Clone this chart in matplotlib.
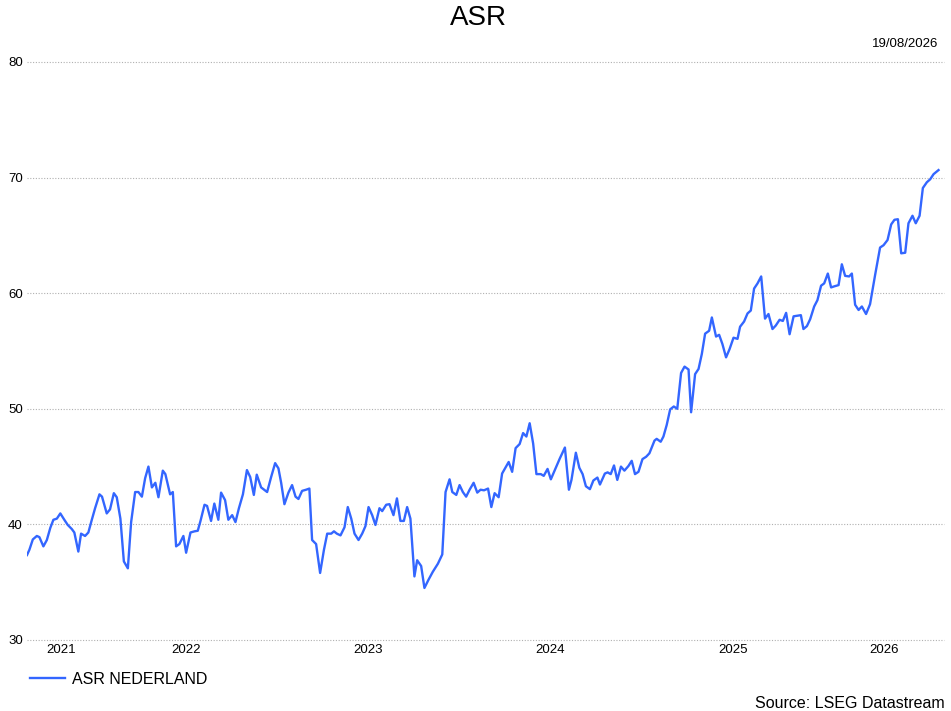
import datetime as dt
import matplotlib
matplotlib.use("Agg")
import matplotlib.pyplot as plt
import matplotlib.dates as mdates
from matplotlib.ticker import FixedLocator, NullLocator

# -----------------------------
# data (weekly closes, time as decimal year)
# -----------------------------
TITLE = "ASR"
SERIES_NAME = "ASR NEDERLAND"
AS_OF = "19/08/2026"
SOURCE = "Source: LSEG Datastream"
YEARS = [2021, 2022, 2023, 2024, 2025, 2026]
Y_TICKS = [30, 40, 50, 60, 70, 80]

t_dec = [
    2021.626, 2021.639, 2021.658, 2021.680, 2021.694, 2021.716, 2021.735, 2021.754, 2021.771, 2021.790,
    2021.809, 2021.831, 2021.850, 2021.872, 2021.886, 2021.908, 2021.923, 2021.945, 2021.963, 2021.982,
    2022.000, 2022.024, 2022.038, 2022.064, 2022.082, 2022.103, 2022.119, 2022.139, 2022.158, 2022.180,
    2022.198, 2022.220, 2022.238, 2022.257, 2022.275, 2022.293, 2022.312, 2022.331, 2022.348, 2022.372,
    2022.386, 2022.412, 2022.427, 2022.445, 2022.463, 2022.485, 2022.500, 2022.524, 2022.546, 2022.564,
    2022.579, 2022.601, 2022.615, 2022.637, 2022.655, 2022.677, 2022.692, 2022.714, 2022.732, 2022.753,
    2022.771, 2022.790, 2022.812, 2022.834, 2022.852, 2022.872, 2022.888, 2022.912, 2022.929, 2022.945,
    2022.967, 2022.989, 2023.007, 2023.022, 2023.040, 2023.062, 2023.082, 2023.101, 2023.117, 2023.137,
    2023.159, 2023.177, 2023.192, 2023.214, 2023.236, 2023.257, 2023.275, 2023.297, 2023.312, 2023.328,
    2023.348, 2023.370, 2023.388, 2023.407, 2023.425, 2023.447, 2023.467, 2023.485, 2023.502, 2023.522,
    2023.540, 2023.562, 2023.577, 2023.599, 2023.617, 2023.639, 2023.658, 2023.677, 2023.696, 2023.714,
    2023.732, 2023.754, 2023.769, 2023.791, 2023.809, 2023.831, 2023.855, 2023.883, 2023.907, 2023.925,
    2023.947, 2023.962, 2023.984, 2024.002, 2024.020, 2024.038, 2024.057, 2024.079, 2024.099, 2024.117,
    2024.136, 2024.158, 2024.176, 2024.194, 2024.216, 2024.235, 2024.253, 2024.271, 2024.290, 2024.309,
    2024.331, 2024.350, 2024.368, 2024.386, 2024.405, 2024.423, 2024.447, 2024.463, 2024.484, 2024.502,
    2024.524, 2024.551, 2024.579, 2024.601, 2024.615, 2024.639, 2024.658, 2024.676, 2024.694, 2024.716,
    2024.735, 2024.757, 2024.771, 2024.798, 2024.813, 2024.830, 2024.848, 2024.866, 2024.886, 2024.905,
    2024.927, 2024.945, 2024.963, 2024.982, 2025.004, 2025.024, 2025.042, 2025.070, 2025.082, 2025.104,
    2025.119, 2025.137, 2025.156, 2025.176, 2025.195, 2025.216, 2025.235, 2025.257, 2025.271, 2025.293,
    2025.312, 2025.330, 2025.348, 2025.370, 2025.385, 2025.408, 2025.425, 2025.443, 2025.463, 2025.482,
    2025.504, 2025.526, 2025.540, 2025.562, 2025.581, 2025.599, 2025.617, 2025.636, 2025.656, 2025.677,
    2025.696, 2025.718, 2025.736, 2025.757, 2025.775, 2025.793, 2025.812, 2025.834, 2025.856, 2025.874,
    2025.888, 2025.907, 2025.925, 2025.947, 2025.965, 2025.985, 2026.002, 2026.022, 2026.040, 2026.059,
    2026.081, 2026.099, 2026.117, 2026.139, 2026.154, 2026.172, 2026.191, 2026.209, 2026.232, 2026.254,
    2026.282, 2026.309, 2026.328, 2026.350, 2026.370, 2026.388, 2026.407, 2026.425, 2026.447, 2026.465,
    2026.487, 2026.505, 2026.526, 2026.544, 2026.566, 2026.584, 2026.603, 2026.630,
]

price = [
    37.35, 37.8, 38.7, 39.0, 38.9, 38.1, 38.65, 39.7, 40.4, 40.5,
    40.95, 40.4, 39.95, 39.6, 39.3, 37.65, 39.2, 39.0, 39.3, 40.4,
    41.4, 42.6, 42.4, 40.95, 41.3, 42.7, 42.35, 40.5, 36.8, 36.2,
    40.2, 42.8, 42.8, 42.4, 44.0, 45.0, 43.2, 43.6, 42.35, 44.65,
    44.35, 42.6, 42.8, 38.1, 38.3, 39.0, 37.55, 39.3, 39.4, 39.45,
    40.3, 41.7, 41.6, 40.3, 41.8, 40.4, 42.75, 42.1, 40.4, 40.8,
    40.2, 41.4, 42.6, 44.7, 44.1, 42.55, 44.3, 43.2, 43.0, 42.8,
    44.1, 45.3, 44.85, 43.6, 41.75, 42.75, 43.4, 42.4, 42.2, 42.9,
    43.0, 43.1, 38.65, 38.3, 35.8, 37.8, 39.2, 39.2, 39.4, 39.2,
    39.05, 39.75, 41.5, 40.5, 39.2, 38.65, 39.2, 39.85, 41.5, 40.8,
    39.95, 41.4, 41.15, 41.7, 41.75, 40.8, 42.25, 40.3, 40.3, 41.5,
    40.5, 35.5, 36.9, 36.4, 34.5, 35.2, 35.9, 36.6, 37.4, 42.8,
    43.9, 42.8, 42.55, 43.4, 42.8, 42.4, 43.0, 43.6, 42.75, 43.0,
    42.95, 43.1, 41.5, 42.7, 42.35, 44.4, 44.9, 45.4, 44.55, 46.6,
    46.95, 47.9, 47.6, 48.75, 47.0, 44.35, 44.35, 44.2, 44.8, 43.9,
    44.7, 45.7, 46.65, 43.0, 43.85, 46.2, 44.9, 44.35, 43.3, 43.05,
    43.8, 44.05, 43.45, 44.4, 44.5, 44.35, 45.1, 43.85, 45.0, 44.65,
    45.05, 45.5, 44.35, 44.55, 45.65, 45.85, 46.15, 47.25, 47.4, 47.15,
    47.6, 48.6, 49.95, 50.2, 50.0, 53.1, 53.65, 53.4, 49.7, 53.0,
    53.45, 54.75, 56.5, 56.75, 57.9, 56.25, 56.4, 55.6, 54.45, 55.15,
    56.15, 56.05, 57.1, 57.55, 58.25, 58.5, 60.4, 60.85, 61.45, 57.8,
    58.2, 56.9, 57.2, 57.7, 57.6, 58.3, 56.45, 58.0, 58.05, 58.1,
    56.9, 57.15, 57.75, 58.85, 59.4, 60.65, 60.85, 61.7, 60.5, 60.6,
    60.7, 62.5, 61.5, 61.45, 61.7, 59.0, 58.55, 58.85, 58.2, 59.05,
    61.6, 63.95, 64.15, 64.6, 65.95, 66.35, 66.4, 63.45, 63.5, 66.05,
    66.7, 66.05, 66.7, 69.1, 69.6, 69.85, 70.3, 70.65,
]

LINE_COLOR = "#3366ff"
GRID_COLOR = "#b0b0b0"

plt.rcParams["font.family"] = ["Liberation Sans", "DejaVu Sans"]


def dec_to_date(v):
    y = int(v)
    start = dt.datetime(y, 1, 1)
    days = (dt.datetime(y + 1, 1, 1) - start).days
    return start + dt.timedelta(days=(v - y) * days)


dates = [dec_to_date(v) for v in t_dec]

fig = plt.figure(figsize=(9.51, 7.11), dpi=100)
ax = fig.add_axes([27 / 951, 1 - 640 / 711, (944 - 27) / 951, (640 - 62) / 711])

ax.plot(dates, price, color=LINE_COLOR, lw=1.7, label=SERIES_NAME, solid_joinstyle="round")

xmin = mdates.date2num(dates[0])
xmax = mdates.date2num(dates[-1] + dt.timedelta(days=11))
ax.set_xlim(xmin, xmax)
ax.set_ylim(Y_TICKS[0], Y_TICKS[-1])

# year labels sit in the middle of each (clipped) year segment
centers = []
for yr in YEARS:
    a = max(mdates.date2num(dt.datetime(yr, 1, 1)), xmin)
    b = min(mdates.date2num(dt.datetime(yr + 1, 1, 1)), xmax)
    centers.append((a + b) / 2)
ax.xaxis.set_major_locator(FixedLocator(centers))
ax.set_xticklabels([str(y) for y in YEARS])
ax.xaxis.set_minor_locator(NullLocator())
ax.tick_params(axis="x", length=0, pad=3, labelsize=9.5)

ax.set_yticks(Y_TICKS)
ax.set_yticklabels([str(v) for v in Y_TICKS])
ax.tick_params(axis="y", length=0, pad=3, labelsize=9.5)

ax.grid(axis="y", color=GRID_COLOR, linestyle=(0, (1, 1.5)), linewidth=0.8)
ax.set_axisbelow(True)
for gl in ax.yaxis.get_gridlines():
    gl.set_clip_on(False)
for s in ax.spines.values():
    s.set_visible(False)

fig.text(0.503, 0.974, TITLE, ha="center", va="center", fontsize=20)
fig.text(938 / 951, 1 - 44 / 711, AS_OF, ha="right", va="center", fontsize=9.5)
fig.text(945 / 951, 1 - 703 / 711, SOURCE, ha="right", va="center", fontsize=11.5)

fig.legend(loc="center left", bbox_to_anchor=(30 / 951, 1 - 679 / 711), frameon=False,
           borderpad=0, borderaxespad=0, handlelength=2.2, handletextpad=0.45, fontsize=11.5)

fig.savefig("out.png", dpi=100)
